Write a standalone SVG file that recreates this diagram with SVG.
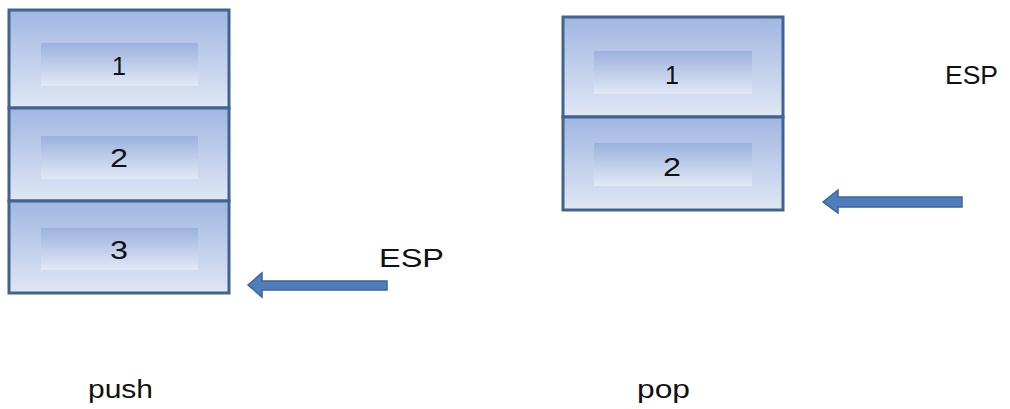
<svg xmlns="http://www.w3.org/2000/svg" width="1010" height="409" viewBox="0 0 1010 409">
  <style>
    .cell { fill: url(#cellGrad); stroke: #41638f; stroke-width: 3; }
    .inner { fill: url(#innerGrad); }
    .num { font-family: "Liberation Sans", Arial, sans-serif; font-size: 26px; fill: #111; text-anchor: middle; }
    .lbl { font-family: "Liberation Sans", Arial, sans-serif; font-size: 25px; fill: #111; }
    .arrow { fill: #4f7ebd; stroke: #3b6698; stroke-width: 1.5; }
  </style>
  <defs>
    <linearGradient id="cellGrad" x1="0" y1="0" x2="0" y2="1">
      <stop offset="0" stop-color="#a0b6e2"/>
      <stop offset="1" stop-color="#e0e7f5"/>
    </linearGradient>
    <linearGradient id="innerGrad" x1="0" y1="0" x2="0" y2="1">
      <stop offset="0" stop-color="#9bb1de"/>
      <stop offset="1" stop-color="#e2e9f6"/>
    </linearGradient>
  </defs>
  <rect width="1010" height="409" fill="#ffffff"/>

  <!-- push stack -->
  <g id="push-cell-1">
    <rect class="cell" x="9" y="10" width="220" height="98"/>
    <rect class="inner" x="41" y="43" width="157" height="43"/>
    <text class="num" x="119" y="75" textLength="14" lengthAdjust="spacingAndGlyphs">1</text>
  </g>
  <g id="push-cell-2">
    <rect class="cell" x="9" y="108" width="220" height="93"/>
    <rect class="inner" x="41" y="136" width="157" height="43"/>
    <text class="num" x="119" y="167" textLength="18" lengthAdjust="spacingAndGlyphs">2</text>
  </g>
  <g id="push-cell-3">
    <rect class="cell" x="9" y="201" width="220" height="92"/>
    <rect class="inner" x="41" y="228" width="157" height="42"/>
    <text class="num" x="119" y="259" textLength="18" lengthAdjust="spacingAndGlyphs">3</text>
  </g>

  <!-- pop stack -->
  <g id="pop-cell-1">
    <rect class="cell" x="563" y="17" width="220" height="100"/>
    <rect class="inner" x="594" y="51" width="158" height="43"/>
    <text class="num" x="672" y="84" textLength="14" lengthAdjust="spacingAndGlyphs">1</text>
  </g>
  <g id="pop-cell-2">
    <rect class="cell" x="563" y="117" width="220" height="93"/>
    <rect class="inner" x="594" y="143" width="158" height="43"/>
    <text class="num" x="672" y="176" textLength="18" lengthAdjust="spacingAndGlyphs">2</text>
  </g>

  <!-- stack pointer arrows -->
  <g id="connectors">
    <path class="arrow" d="M248,285 L262,273 L262,281 L387,281 L387,290 L262,290 L262,297 Z"/>
    <path class="arrow" d="M823,202 L838,190 L838,197 L962,197 L962,207 L838,207 L838,213 Z"/>
  </g>

  <g id="labels">
    <text class="lbl" x="379" y="267" font-size="26" textLength="65" lengthAdjust="spacingAndGlyphs">ESP</text>
    <text class="lbl" x="945" y="84" font-size="23" textLength="53" lengthAdjust="spacingAndGlyphs">ESP</text>
    <text class="lbl" x="88" y="398" textLength="65" lengthAdjust="spacingAndGlyphs">push</text>
    <text class="lbl" x="637" y="398" textLength="53" lengthAdjust="spacingAndGlyphs">pop</text>
  </g>
</svg>
